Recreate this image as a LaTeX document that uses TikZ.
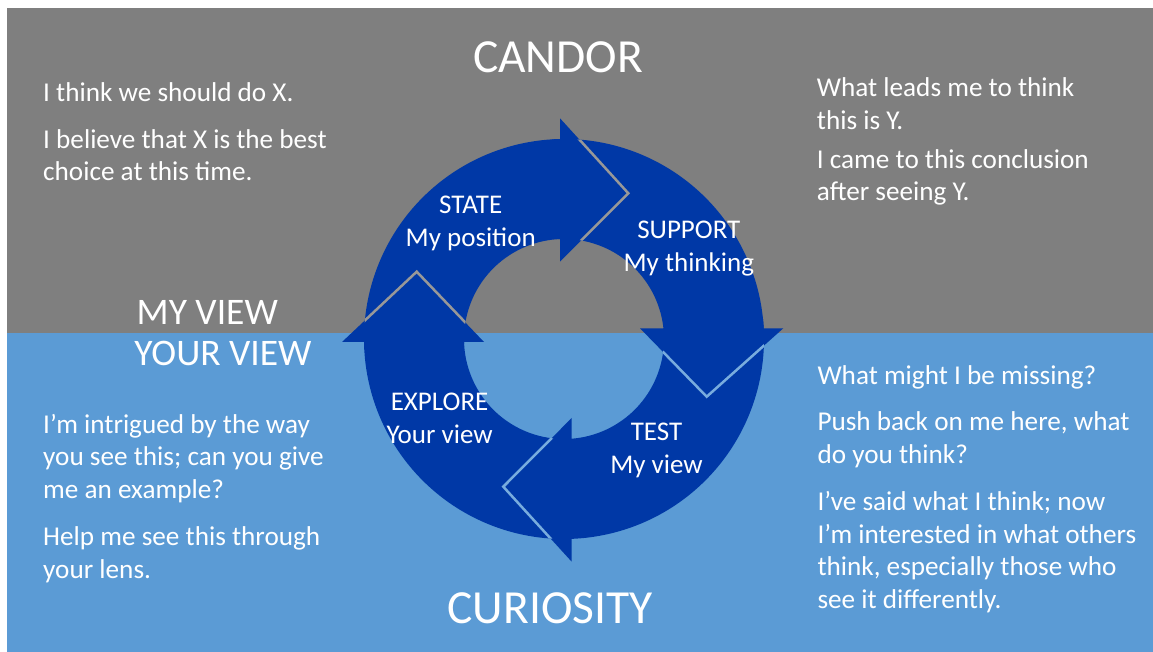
\documentclass[tikz,border=0pt]{standalone}
\usepackage{fontspec}
\setmainfont{Carlito}
\definecolor{candorgray}{RGB}{127,127,127}
\definecolor{curiosityblue}{RGB}{91,155,213}
\definecolor{cyclenavy}{RGB}{0,56,166}
\definecolor{seamgray}{RGB}{152,152,152}
\definecolor{seamblue}{RGB}{120,172,222}
\begin{document}
\begin{tikzpicture}[x=1pt,y=1pt,
  txt/.style={text=white,inner sep=0pt},
  % multi-line nodes are anchored at the baseline of their last line
  para/.style={txt,align=left,anchor=base west,font=\fontsize{27.2}{32.5}\selectfont},
  headline/.style={txt,anchor=base,font=\fontsize{47.5}{56}\selectfont},
  sidehead/.style={txt,anchor=base,font=\fontsize{37.5}{44}\selectfont},
  stagelabel/.style={txt,align=center,anchor=base,font=\fontsize{27}{33}\selectfont},
  cyclearrow/.style={fill=cyclenavy},
  seam/.style={line width=2.5pt,line join=miter},
]
\useasboundingbox (0,0) rectangle (1153,652);
\fill[white] (0,0) rectangle (1153,652);
% two halves of the slide
\fill[candorgray] (7.3,319) rectangle (1153,643.7);
\fill[curiosityblue] (7.3,0) rectangle (1153,319);

% ring segments of the four cycle arrows
\begin{scope}[shift={(564,313)}]
  \foreach \a/\b in {183.1/89.5, 93.5/2.1, 6.1/-89.1, 272.9/179.1}{
    \fill[cyclearrow] (\a:200) arc[start angle=\a, end angle=\b, radius=200]
      -- (\b:100) arc[start angle=\b, end angle=\a, radius=100] -- cycle;
  }
\end{scope}

% arrow heads
\fill[cyclearrow] (560,533.7) -- (628.3,458.7) -- (560,390.3) -- cycle;   % STATE
\fill[cyclearrow] (783.3,323.7) -- (706.7,255.3) -- (640,323.7) -- cycle; % SUPPORT
\fill[cyclearrow] (571.7,90.3) -- (503.3,165.3) -- (571.7,234) -- cycle;  % TEST
\fill[cyclearrow] (342,310) -- (416.7,380.3) -- (484,310) -- cycle;       % EXPLORE

% thin gaps between each head and the notched tail behind it
\begin{scope}[even odd rule]
  \clip (564,313) circle[radius=200] (564,313) circle[radius=100];
  \draw[seam,seamgray] (560,533.7) -- (628.3,458.7) -- (560,390.3);
  \draw[seam,seamblue] (783.3,323.7) -- (706.7,255.3) -- (640,323.7);
  \draw[seam,seamblue] (571.7,90.3) -- (503.3,165.3) -- (571.7,234);
  \draw[seam,seamgray] (342,310) -- (416.7,380.3) -- (484,310);
\end{scope}

% stage labels
\node[stagelabel] (state) at (470.7,405.3) {STATE\\My position};
\node[stagelabel] (support) at (688.8,380.3) {SUPPORT\\My thinking};
\node[stagelabel] (test) at (656.5,178.7) {TEST\\My view};
\node[stagelabel] (explore) at (439.6,208) {EXPLORE\\Your view};

% headings
\node[headline] (candor) at (558,579.3) {CANDOR};
\node[headline] (curiosity) at (550,28.7) {CURIOSITY};
\node[sidehead] (myview) at (207.3,327) {MY VIEW};
\node[sidehead] (yourview) at (223,286) {YOUR VIEW};

% example phrases
\node[para] (stateA) at (43,550.3) {I think we should do X.};
\node[para] (stateB) at (43,471.3) {I believe that X is the best\\choice at this time.};
\node[para] (supportA) at (816.7,522.7) {What leads me to think\\this is Y.};
\node[para] (supportB) at (816.7,451.3) {I came to this conclusion\\after seeing Y.};
\node[para] (exploreA) at (43,153.7) {I’m intrigued by the way\\you see this; can you give\\me an example?};
\node[para] (exploreB) at (43,73.7) {Help me see this through\\your lens.};
\node[para] (testA) at (817.3,267) {What might I be missing?};
\node[para] (testB) at (817.3,188.7) {Push back on me here, what\\do you think?};
\node[para] (testC) at (817.3,43.7) {I’ve said what I think; now\\I’m interested in what others\\think, especially those who\\see it differently.};
\end{tikzpicture}
\end{document}
